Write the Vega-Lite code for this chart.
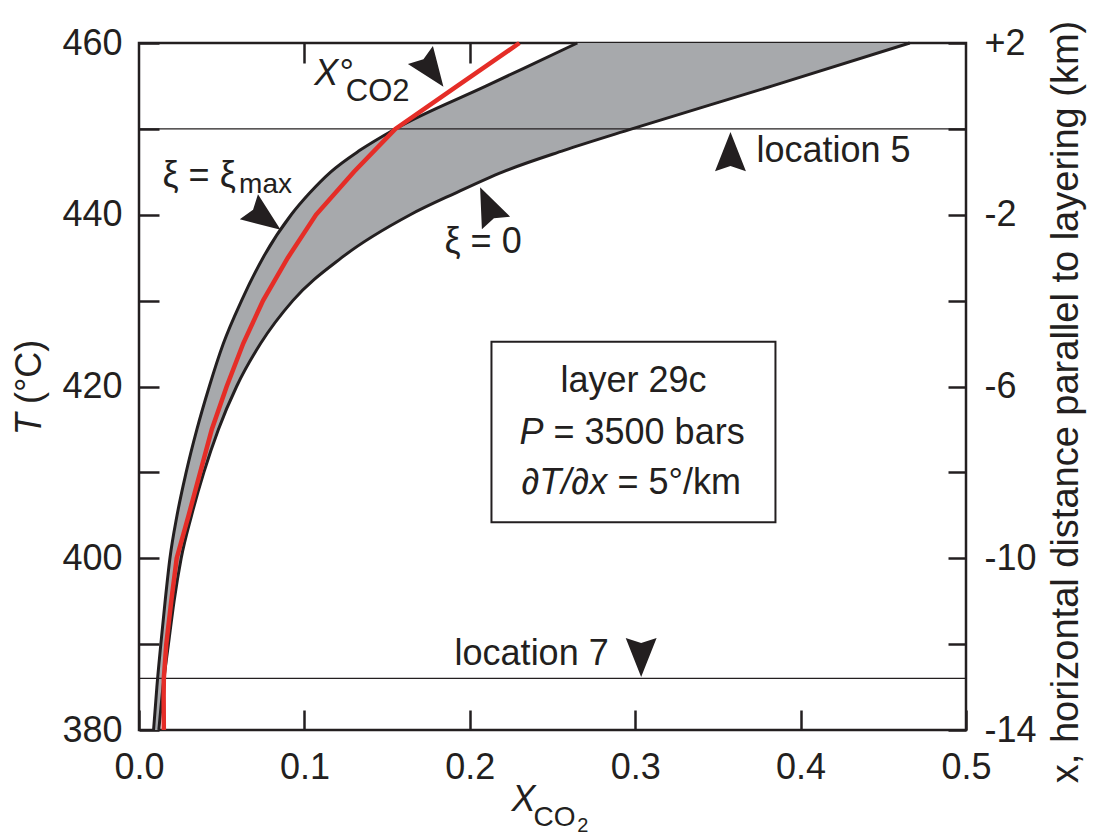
{
  "$schema": "https://vega.github.io/schema/vega-lite/v6.json",
  "width": 827,
  "height": 687,
  "autosize": {"type": "none"},
  "padding": {"left": 139, "top": 43, "right": 128, "bottom": 106},
  "background": "white",
  "config": {
    "view": {"stroke": "#231f20", "strokeWidth": 2.5},
    "font": "Liberation Sans",
    "axis": {"labelFont": "Liberation Sans", "labelFontSize": 36, "labelColor": "#231f20", "tickColor": "#231f20", "tickWidth": 2.5, "domain": false, "grid": false, "title": null, "labelFlush": false, "labelOverlap": false}
  },
  "datasets": {
    "band": [
      {"T": 380, "xmax": 0.0088, "x0": 0.0120},
      {"T": 385, "xmax": 0.0108, "x0": 0.0145},
      {"T": 390, "xmax": 0.0132, "x0": 0.0178},
      {"T": 395, "xmax": 0.0158, "x0": 0.0212},
      {"T": 400, "xmax": 0.0187, "x0": 0.0255},
      {"T": 405, "xmax": 0.0230, "x0": 0.0318},
      {"T": 410, "xmax": 0.0285, "x0": 0.0392},
      {"T": 415, "xmax": 0.0350, "x0": 0.0480},
      {"T": 420, "xmax": 0.0425, "x0": 0.0590},
      {"T": 425, "xmax": 0.0510, "x0": 0.0735},
      {"T": 430, "xmax": 0.0620, "x0": 0.0930},
      {"T": 435, "xmax": 0.0750, "x0": 0.1225},
      {"T": 440, "xmax": 0.0920, "x0": 0.1640},
      {"T": 442.5, "xmax": 0.1030, "x0": 0.1910},
      {"T": 445, "xmax": 0.1160, "x0": 0.2200},
      {"T": 447.5, "xmax": 0.1335, "x0": 0.2570},
      {"T": 450, "xmax": 0.1550, "x0": 0.2980},
      {"T": 455, "xmax": 0.2100, "x0": 0.3830},
      {"T": 460, "xmax": 0.2650, "x0": 0.4660}
    ],
    "curves": [
      {"curve": "xi_max", "T": 380, "X": 0.0088},
      {"curve": "xi_max", "T": 385, "X": 0.0108},
      {"curve": "xi_max", "T": 390, "X": 0.0132},
      {"curve": "xi_max", "T": 395, "X": 0.0158},
      {"curve": "xi_max", "T": 400, "X": 0.0187},
      {"curve": "xi_max", "T": 405, "X": 0.0230},
      {"curve": "xi_max", "T": 410, "X": 0.0285},
      {"curve": "xi_max", "T": 415, "X": 0.0350},
      {"curve": "xi_max", "T": 420, "X": 0.0425},
      {"curve": "xi_max", "T": 425, "X": 0.0510},
      {"curve": "xi_max", "T": 430, "X": 0.0620},
      {"curve": "xi_max", "T": 435, "X": 0.0750},
      {"curve": "xi_max", "T": 440, "X": 0.0920},
      {"curve": "xi_max", "T": 442.5, "X": 0.1030},
      {"curve": "xi_max", "T": 445, "X": 0.1160},
      {"curve": "xi_max", "T": 447.5, "X": 0.1335},
      {"curve": "xi_max", "T": 450, "X": 0.1550},
      {"curve": "xi_max", "T": 455, "X": 0.2100},
      {"curve": "xi_max", "T": 460, "X": 0.2650},
      {"curve": "xi_0", "T": 380, "X": 0.0120},
      {"curve": "xi_0", "T": 385, "X": 0.0145},
      {"curve": "xi_0", "T": 390, "X": 0.0178},
      {"curve": "xi_0", "T": 395, "X": 0.0212},
      {"curve": "xi_0", "T": 400, "X": 0.0255},
      {"curve": "xi_0", "T": 405, "X": 0.0318},
      {"curve": "xi_0", "T": 410, "X": 0.0392},
      {"curve": "xi_0", "T": 415, "X": 0.0480},
      {"curve": "xi_0", "T": 420, "X": 0.0590},
      {"curve": "xi_0", "T": 425, "X": 0.0735},
      {"curve": "xi_0", "T": 430, "X": 0.0930},
      {"curve": "xi_0", "T": 435, "X": 0.1225},
      {"curve": "xi_0", "T": 440, "X": 0.1640},
      {"curve": "xi_0", "T": 442.5, "X": 0.1910},
      {"curve": "xi_0", "T": 445, "X": 0.2200},
      {"curve": "xi_0", "T": 447.5, "X": 0.2570},
      {"curve": "xi_0", "T": 450, "X": 0.2980},
      {"curve": "xi_0", "T": 455, "X": 0.3830},
      {"curve": "xi_0", "T": 460, "X": 0.4660}
    ],
    "red": [
      {"T": 380, "X": 0.0150},
      {"T": 384, "X": 0.0149},
      {"T": 386, "X": 0.0150},
      {"T": 390, "X": 0.0165},
      {"T": 395, "X": 0.0195},
      {"T": 400, "X": 0.0228},
      {"T": 405, "X": 0.0300},
      {"T": 410, "X": 0.0370},
      {"T": 415, "X": 0.0440},
      {"T": 420, "X": 0.0530},
      {"T": 425, "X": 0.0630},
      {"T": 430, "X": 0.0750},
      {"T": 435, "X": 0.0900},
      {"T": 440, "X": 0.1070},
      {"T": 445, "X": 0.1300},
      {"T": 450, "X": 0.1550},
      {"T": 455, "X": 0.1925},
      {"T": 460, "X": 0.2300}
    ],
    "refs": [{"name": "location 5", "T": 450}, {"name": "location 7", "T": 386}],
    "box": [{"x1": 0.2131, "x2": 0.3848, "t1": 425.2, "t2": 404.2}],
    "txt_reg": [
      {"label": "ξ = ξ", "X": 0.0142, "T": 444.5},
      {"label": "ξ = 0", "X": 0.1847, "T": 436.8},
      {"label": "location 5", "X": 0.3733, "T": 447.4},
      {"label": "location 7", "X": 0.1908, "T": 388.8},
      {"label": "= 3500 bars", "X": 0.2506, "T": 414.6},
      {"label": "= 5°/km", "X": 0.2893, "T": 408.75}
    ],
    "txt_center": [{"label": "layer 29c", "X": 0.299, "T": 420.6}],
    "txt_ital": [
      {"label": "X°", "X": 0.106, "T": 456.4},
      {"label": "P", "X": 0.2301, "T": 414.6},
      {"label": "∂T/∂x", "X": 0.2313, "T": 408.75},
      {"label": "X", "X": 0.2252, "T": 371.8}
    ],
    "txt_sub": [
      {"label": "max", "X": 0.0605, "T": 443.5},
      {"label": "CO", "X": 0.2385, "T": 369.7}
    ],
    "txt_sub_top": [{"label": "CO2", "X": 0.125, "T": 454.3}],
    "txt_sub2": [{"label": "2", "X": 0.2650, "T": 368.8}],
    "txt_rot": [
      {"label": "(°C)", "X": -0.0662, "T": 421.7}
    ],
    "txt_rot_big": [
      {"label": "x, horizontal distance parallel to layering (km)", "X": 0.5613, "T": 418.2}
    ],
    "txt_rot_ital": [{"label": "T", "X": -0.0662, "T": 415.6}],
    "arrows": [
      {"name": "xco2", "X": 0.176, "T": 457.05},
      {"name": "ximax", "X": 0.0745, "T": 439.8},
      {"name": "xi0", "X": 0.2118, "T": 440.8},
      {"name": "loc5", "X": 0.3576, "T": 447.0},
      {"name": "loc7", "X": 0.3036, "T": 388.8}
    ]
  },
  "layer": [
    {
      "data": {"name": "band"},
      "mark": {"type": "area", "orient": "horizontal", "color": "#a7a9ac", "interpolate": "monotone"},
      "encoding": {
        "y": {"field": "T", "type": "quantitative", "scale": {"domain": [380, 460], "nice": false, "zero": false},
          "axis": {"orient": "left", "values": [380, 390, 400, 410, 420, 430, 440, 450, 460], "labelExpr": "datum.value % 20 === 0 ? '' + datum.value : ''", "tickSize": -20, "labelPadding": 37}},
        "x": {"field": "xmax", "type": "quantitative", "scale": {"domain": [0, 0.5], "nice": false, "zero": false},
          "axis": {"orient": "bottom", "values": [0, 0.1, 0.2, 0.3, 0.4, 0.5], "format": ".1f", "tickSize": -20, "labelPadding": 40}},
        "x2": {"field": "x0"}
      }
    },
    {
      "data": {"name": "refs"},
      "mark": {"type": "rule", "color": "#231f20", "strokeWidth": 1.3},
      "encoding": {"y": {"field": "T", "type": "quantitative", "axis": null}}
    },
    {
      "data": {"name": "curves"},
      "mark": {"type": "line", "color": "#231f20", "strokeWidth": 3, "interpolate": "monotone"},
      "encoding": {
        "x": {"field": "X", "type": "quantitative", "axis": {"orient": "top", "values": [0.1, 0.2, 0.3, 0.4], "labels": false, "tickSize": -20}},
        "y": {"field": "T", "type": "quantitative",
          "axis": {"orient": "right", "values": [380, 390, 400, 410, 420, 430, 440, 450, 460], "labelExpr": "datum.value % 20 === 0 ? (datum.value > 450 ? '+' + (datum.value - 450) / 5 : '-' + (450 - datum.value) / 5) : ''", "tickSize": -18, "labelPadding": 36}},
        "detail": {"field": "curve"},
        "order": {"field": "T", "type": "quantitative"}
      }
    },
    {
      "data": {"name": "red"},
      "mark": {"type": "line", "color": "#e52d27", "strokeWidth": 4.5},
      "encoding": {
        "x": {"field": "X", "type": "quantitative", "axis": null},
        "y": {"field": "T", "type": "quantitative", "axis": null},
        "order": {"field": "T", "type": "quantitative"}
      }
    },
    {
      "data": {"name": "box"},
      "mark": {"type": "rect", "fill": "white", "stroke": "#231f20", "strokeWidth": 2},
      "encoding": {
        "x": {"field": "x1", "type": "quantitative", "axis": null},
        "x2": {"field": "x2"},
        "y": {"field": "t1", "type": "quantitative", "axis": null},
        "y2": {"field": "t2"}
      }
    },
    {
      "data": {"name": "txt_reg"},
      "mark": {"type": "text", "align": "left", "baseline": "middle", "fontSize": 36, "color": "#231f20"},
      "encoding": {
        "x": {"field": "X", "type": "quantitative", "axis": null},
        "y": {"field": "T", "type": "quantitative", "axis": null},
        "text": {"field": "label"}
      }
    },
    {
      "data": {"name": "txt_center"},
      "mark": {"type": "text", "align": "center", "baseline": "middle", "fontSize": 36, "color": "#231f20"},
      "encoding": {
        "x": {"field": "X", "type": "quantitative", "axis": null},
        "y": {"field": "T", "type": "quantitative", "axis": null},
        "text": {"field": "label"}
      }
    },
    {
      "data": {"name": "txt_ital"},
      "mark": {"type": "text", "align": "left", "baseline": "middle", "fontSize": 36, "fontStyle": "italic", "color": "#231f20"},
      "encoding": {
        "x": {"field": "X", "type": "quantitative", "axis": null},
        "y": {"field": "T", "type": "quantitative", "axis": null},
        "text": {"field": "label"}
      }
    },
    {
      "data": {"name": "txt_sub"},
      "mark": {"type": "text", "align": "left", "baseline": "middle", "fontSize": 28, "color": "#231f20"},
      "encoding": {
        "x": {"field": "X", "type": "quantitative", "axis": null},
        "y": {"field": "T", "type": "quantitative", "axis": null},
        "text": {"field": "label"}
      }
    },
    {
      "data": {"name": "txt_sub_top"},
      "mark": {"type": "text", "align": "left", "baseline": "middle", "fontSize": 31, "color": "#231f20"},
      "encoding": {
        "x": {"field": "X", "type": "quantitative", "axis": null},
        "y": {"field": "T", "type": "quantitative", "axis": null},
        "text": {"field": "label"}
      }
    },
    {
      "data": {"name": "txt_sub2"},
      "mark": {"type": "text", "align": "left", "baseline": "middle", "fontSize": 20, "color": "#231f20"},
      "encoding": {
        "x": {"field": "X", "type": "quantitative", "axis": null},
        "y": {"field": "T", "type": "quantitative", "axis": null},
        "text": {"field": "label"}
      }
    },
    {
      "data": {"name": "txt_rot"},
      "mark": {"type": "text", "align": "center", "baseline": "middle", "fontSize": 36, "angle": 270, "color": "#231f20"},
      "encoding": {
        "x": {"field": "X", "type": "quantitative", "axis": null},
        "y": {"field": "T", "type": "quantitative", "axis": null},
        "text": {"field": "label"}
      }
    },
    {
      "data": {"name": "txt_rot_big"},
      "mark": {"type": "text", "align": "center", "baseline": "middle", "fontSize": 38, "angle": 270, "color": "#231f20"},
      "encoding": {
        "x": {"field": "X", "type": "quantitative", "axis": null},
        "y": {"field": "T", "type": "quantitative", "axis": null},
        "text": {"field": "label"}
      }
    },
    {
      "data": {"name": "txt_rot_ital"},
      "mark": {"type": "text", "align": "center", "baseline": "middle", "fontSize": 36, "angle": 270, "fontStyle": "italic", "color": "#231f20"},
      "encoding": {
        "x": {"field": "X", "type": "quantitative", "axis": null},
        "y": {"field": "T", "type": "quantitative", "axis": null},
        "text": {"field": "label"}
      }
    },
    {
      "data": {"name": "arrows"},
      "transform": [{"filter": "datum.name === 'xco2'"}],
      "mark": {"type": "point", "shape": "M0,-1.1L0.75,0.8L0,0.55L-0.75,0.8Z", "filled": true, "color": "#231f20", "opacity": 1, "size": 1700, "angle": 144},
      "encoding": {"x": {"field": "X", "type": "quantitative", "axis": null}, "y": {"field": "T", "type": "quantitative", "axis": null}}
    },
    {
      "data": {"name": "arrows"},
      "transform": [{"filter": "datum.name === 'ximax'"}],
      "mark": {"type": "point", "shape": "M0,-1.1L0.75,0.8L0,0.55L-0.75,0.8Z", "filled": true, "color": "#231f20", "opacity": 1, "size": 1700, "angle": 126},
      "encoding": {"x": {"field": "X", "type": "quantitative", "axis": null}, "y": {"field": "T", "type": "quantitative", "axis": null}}
    },
    {
      "data": {"name": "arrows"},
      "transform": [{"filter": "datum.name === 'xi0'"}],
      "mark": {"type": "point", "shape": "M0,-1.1L0.75,0.8L0,0.55L-0.75,0.8Z", "filled": true, "color": "#231f20", "opacity": 1, "size": 1700, "angle": 336},
      "encoding": {"x": {"field": "X", "type": "quantitative", "axis": null}, "y": {"field": "T", "type": "quantitative", "axis": null}}
    },
    {
      "data": {"name": "arrows"},
      "transform": [{"filter": "datum.name === 'loc5'"}],
      "mark": {"type": "point", "shape": "M0,-1.1L0.75,0.8L0,0.55L-0.75,0.8Z", "filled": true, "color": "#231f20", "opacity": 1, "size": 1700, "angle": 0},
      "encoding": {"x": {"field": "X", "type": "quantitative", "axis": null}, "y": {"field": "T", "type": "quantitative", "axis": null}}
    },
    {
      "data": {"name": "arrows"},
      "transform": [{"filter": "datum.name === 'loc7'"}],
      "mark": {"type": "point", "shape": "M0,-1.1L0.75,0.8L0,0.55L-0.75,0.8Z", "filled": true, "color": "#231f20", "opacity": 1, "size": 1700, "angle": 180},
      "encoding": {"x": {"field": "X", "type": "quantitative", "axis": null}, "y": {"field": "T", "type": "quantitative", "axis": null}}
    }
  ],
  "resolve": {"axis": {"x": "independent", "y": "independent"}}
}
